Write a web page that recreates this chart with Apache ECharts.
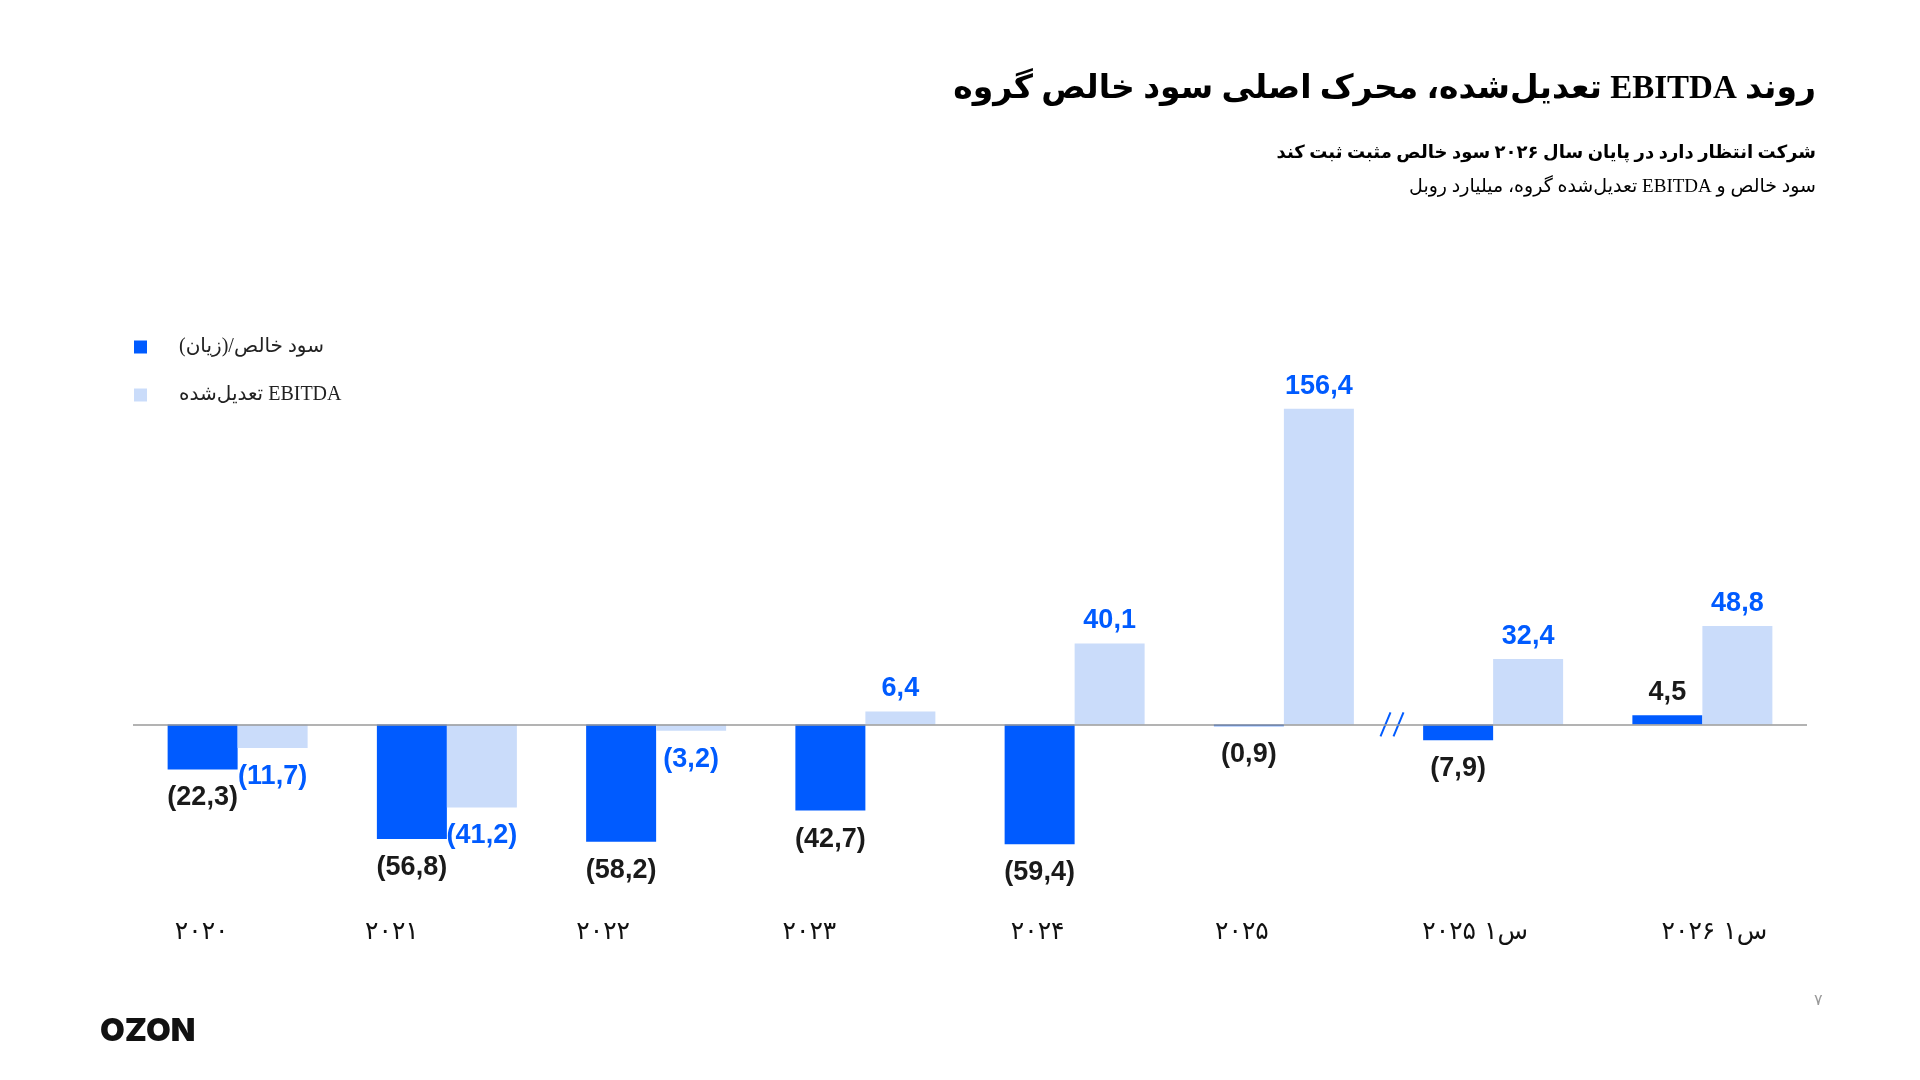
<!DOCTYPE html>
<html>
<head>
<meta charset="utf-8">
<title>Ozon EBITDA</title>
<script src="https://cdn.jsdelivr.net/npm/echarts@6/dist/echarts.min.js"></script>
<style>
  html, body { margin: 0; padding: 0; background: #fff; }
  #container { width: 1920px; height: 1080px; direction: rtl; }
</style>
</head>
<body>
<div id="container"></div>
<script>
var categories = ['۲۰۲۰', '۲۰۲۱', '۲۰۲۲', '۲۰۲۳', '۲۰۲۴', '۲۰۲۵', 'س۱ ۲۰۲۵', 'س۱ ۲۰۲۶'];
var netProfit = [-22.3, -56.8, -58.2, -42.7, -59.4, -0.9, -7.9, 4.5];
var adjEbitda = [-11.7, -41.2, -3.2, 6.4, 40.1, 156.4, 32.4, 48.8];
var seriesNames = ['سود خالص/(زیان)', 'EBITDA تعدیل\u200cشده'];

var persianFont = "'Liberation Serif', 'DejaVu Sans', serif";
var numFont = "'Liberation Sans', Arial, sans-serif";
var darkBlue = '#005bff';
var lightBlue = '#cadcfa';
// the year labels in the slide sit a little off the group centres (px, + = left)
var labelShift = [36, 55, 53, 56, 37, 42, 18, -12];

function fmt(v) {
    var s = Math.abs(v).toFixed(1).replace('.', ',');
    return v < 0 ? '(' + s + ')' : s;
}

function barData(values) {
    return values.map(function (v) {
        return v < 0 ? { value: v, label: { position: 'bottom', distance: 15 } } : v;
    });
}

window.onload = function () {
    var dom = document.getElementById('container');
    var myChart = echarts.init(dom);

    var xLabels = categories.map(function (c, i) {
        var s = labelShift[i];
        return {
            value: c,
            textStyle: { padding: s > 0 ? [0, 2 * s, 0, 0] : [0, 0, 0, -2 * s] }
        };
    });

    var labelBase = {
        show: true,
        position: 'top',
        distance: 9,
        fontFamily: numFont,
        fontSize: 27,
        fontWeight: 'bold',
        formatter: function (p) { return fmt(p.value); }
    };

    var option = {
        animation: false,
        backgroundColor: '#fff',
        title: [{
            text: 'روند EBITDA تعدیل\u200cشده، محرک اصلی سود خالص گروه',
            right: 104,
            top: 66,
            padding: 0,
            textStyle: { fontFamily: persianFont, fontSize: 33, fontWeight: 'bold', color: '#000', lineHeight: 46 }
        }, {
            text: 'شرکت انتظار دارد در پایان سال ۲۰۲۶ سود خالص مثبت ثبت کند',
            right: 104,
            top: 139,
            padding: 0,
            textStyle: { fontFamily: persianFont, fontSize: 18, fontWeight: 'bold', color: '#000', lineHeight: 28 }
        }, {
            text: 'سود خالص و EBITDA تعدیل\u200cشده گروه، میلیارد روبل',
            right: 104,
            top: 174,
            padding: 0,
            textStyle: { fontFamily: persianFont, fontSize: 19, fontWeight: 'normal', color: '#000', lineHeight: 26 }
        }],
        legend: {
            data: seriesNames,
            orient: 'vertical',
            left: 134,
            top: 337,
            padding: 0,
            itemWidth: 13,
            itemHeight: 13,
            itemGap: 28,
            icon: 'rect',
            align: 'left',
            formatter: function (name) { return '{s|\u00a0}{t|' + name + '}'; },
            textStyle: {
                fontFamily: persianFont, fontSize: 20, color: '#222',
                rich: {
                    s: { width: 27, fontSize: 20 },
                    t: { fontFamily: persianFont, fontSize: 20, color: '#222' }
                }
            }
        },
        grid: { left: 133, right: 113, top: 401.6, bottom: 174 },
        xAxis: {
            type: 'category',
            data: xLabels,
            axisLine: { show: false },
            axisTick: { show: false },
            axisLabel: { fontFamily: "'DejaVu Sans', sans-serif", fontSize: 25, color: '#111', margin: 14 }
        },
        yAxis: {
            type: 'value',
            min: -90,
            max: 160,
            show: false,
            splitLine: { show: false }
        },
        series: [{
            name: seriesNames[0],
            type: 'bar',
            data: barData(netProfit),
            barWidth: 70,
            barGap: '0%',
            itemStyle: { color: darkBlue },
            label: Object.assign({}, labelBase, { color: '#1a1a1a' }),
            markLine: {
                silent: true,
                symbol: 'none',
                label: { show: false },
                lineStyle: { color: '#9a9a9a', width: 1.5, type: 'solid' },
                data: [{ yAxis: 0 }]
            }
        }, {
            name: seriesNames[1],
            type: 'bar',
            data: barData(adjEbitda),
            barWidth: 70,
            barGap: '0%',
            itemStyle: { color: lightBlue },
            label: Object.assign({}, labelBase, { color: darkBlue })
        }]
    };

    myChart.setOption(option, true);

    // axis break marker between 2025 and Q1 2025, plus footer
    var x5 = myChart.convertToPixel({ xAxisIndex: 0 }, categories[5]);
    var x6 = myChart.convertToPixel({ xAxisIndex: 0 }, categories[6]);
    var cx = (x5 + x6) / 2 + 4;
    var cy = myChart.convertToPixel({ yAxisIndex: 0 }, 0);

    myChart.setOption({
        graphic: [{
            type: 'line',
            shape: { x1: cx - 12, y1: cy + 12, x2: cx - 2, y2: cy - 12 },
            style: { stroke: darkBlue, lineWidth: 2 }
        }, {
            type: 'line',
            shape: { x1: cx + 1, y1: cy + 12, x2: cx + 11, y2: cy - 12 },
            style: { stroke: darkBlue, lineWidth: 2 }
        }, {
            type: 'text',
            left: 100,
            top: 1015,
            style: { text: 'OZON', font: '900 32px Inter, sans-serif', fill: '#111' }
        }, {
            type: 'text',
            left: 1814,
            top: 993,
            style: { text: '۷', font: '16px "DejaVu Sans", sans-serif', fill: '#999' }
        }]
    });
};
</script>
</body>
</html>
